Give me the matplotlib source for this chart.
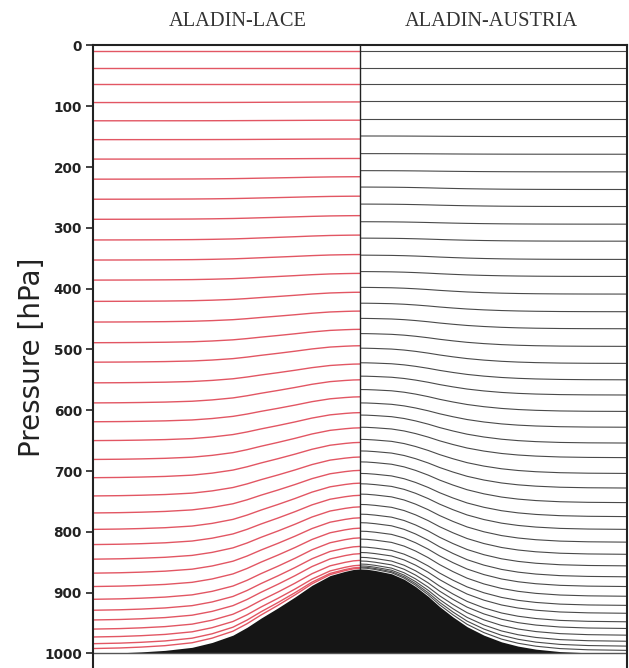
import numpy as np
import matplotlib.pyplot as plt

# terrain profile: horizontal position (-1 .. 1) and surface pressure [hPa]
topo_x = [-1.0, -0.899, -0.820, -0.730, -0.629, -0.554, -0.476, -0.423, -0.371,
          -0.307, -0.243, -0.180, -0.112, -0.056, -0.025, 0.0,
          0.025, 0.056, 0.118, 0.165, 0.208, 0.255, 0.298, 0.348, 0.401, 0.464,
          0.530, 0.592, 0.659, 0.749, 0.854, 1.0]
topo_ps = [1000, 999, 997.5, 995, 990, 982, 970, 957, 942,
           925, 907, 888, 872, 865, 862, 861,
           861.5, 863.5, 869, 878, 890, 906, 923, 940, 956, 970,
           981, 988, 993, 997, 999, 1000]

# ALADIN-LACE levels: pressure over flat ground and over the summit
lace_flat = [9, 37, 64, 94, 124, 155, 187, 220, 253, 286, 320, 353, 386, 421,
             455, 489, 521, 555, 588, 619, 650, 681, 711, 741, 769, 796, 821,
             845, 868, 890, 911, 929, 945, 960, 973, 984, 992]
lace_peak = [9, 37, 64, 93, 123, 154, 186, 216, 248, 280, 312, 344, 375, 406,
             437, 467, 494, 524, 550, 578, 604, 629, 653, 677, 699, 720, 740,
             759, 777, 794, 810, 824, 836, 847, 855, 858.5, 860]

# ALADIN-AUSTRIA levels
aut_flat = [10, 37, 64, 91, 121, 150, 179, 208, 237, 265, 294, 322, 352, 380,
            409, 438, 466, 495, 523, 550, 575, 602, 628, 654, 678, 704, 728,
            752, 775, 796, 817, 837, 856, 874, 890, 906, 921, 934, 948, 959,
            970, 980, 988, 995]
aut_peak = [10, 37, 64, 91, 121, 149, 178, 206, 233, 261, 290, 317, 345, 372,
            398, 424, 449, 474, 498, 522, 544, 566, 588, 608, 628, 648, 667,
            685, 704, 721, 738, 755, 771, 785, 799, 812, 825, 834, 842, 848,
            853, 856, 858, 859.5]

yticks = [0, 100, 200, 300, 400, 500, 600, 700, 800, 900, 1000]

x = np.array(topo_x)
ps = np.array(topo_ps)
ps_flat = ps.max()
ps_top = ps.min()
left = x <= 0
right = x >= 0

fig = plt.figure(figsize=(6.29, 6.68), dpi=100)
ax = fig.add_axes([93 / 629, 0, 534 / 629, 1 - 45.4 / 668])


def draw_levels(flat, peak, mask, color, lw):
    for pf, pp in zip(flat, peak):
        b = (pf - pp) / (ps_flat - ps_top)
        a = pf - b * ps_flat
        ax.plot(x[mask], a + b * ps[mask], color=color, lw=lw,
                solid_capstyle='butt')


draw_levels(lace_flat, lace_peak, left, '#e25663', 1.0)
draw_levels(aut_flat, aut_peak, right, '#4a4a4a', 0.8)

ax.fill_between(x, ps, ps_flat, color='#151515', lw=0)
ax.plot([-1, 1], [ps_flat, ps_flat], color='#555555', lw=1.0)
ax.plot([0, 0], [0, ps_top], color='#222222', lw=1.0)

ax.set_xlim(-1, 1)
ax.set_ylim(1024, 0)
ax.set_xticks([])
ax.set_yticks(yticks)
ax.set_yticklabels([str(t) for t in yticks], fontsize=9.8, fontweight='bold',
                   color='#222222')
ax.tick_params(axis='y', length=5, width=1.2, pad=3, color='#222222')
for s in ['left', 'top', 'right']:
    ax.spines[s].set_linewidth(1.5)
    ax.spines[s].set_color('#222222')
ax.spines['bottom'].set_visible(False)

fig.text(32 / 629, 1 - 357 / 668, 'Pressure [hPa]', rotation=90, ha='center',
         va='center', fontsize=20, color='#222222')
fig.text(238 / 629, 1 - 22 / 668, 'ALADIN-LACE', ha='center', va='center',
         fontsize=14.7, family='Liberation Serif', color='#333333')
fig.text(491 / 629, 1 - 22 / 668, 'ALADIN-AUSTRIA', ha='center', va='center',
         fontsize=14.7, family='Liberation Serif', color='#333333')

fig.savefig('out.png', dpi=100)
